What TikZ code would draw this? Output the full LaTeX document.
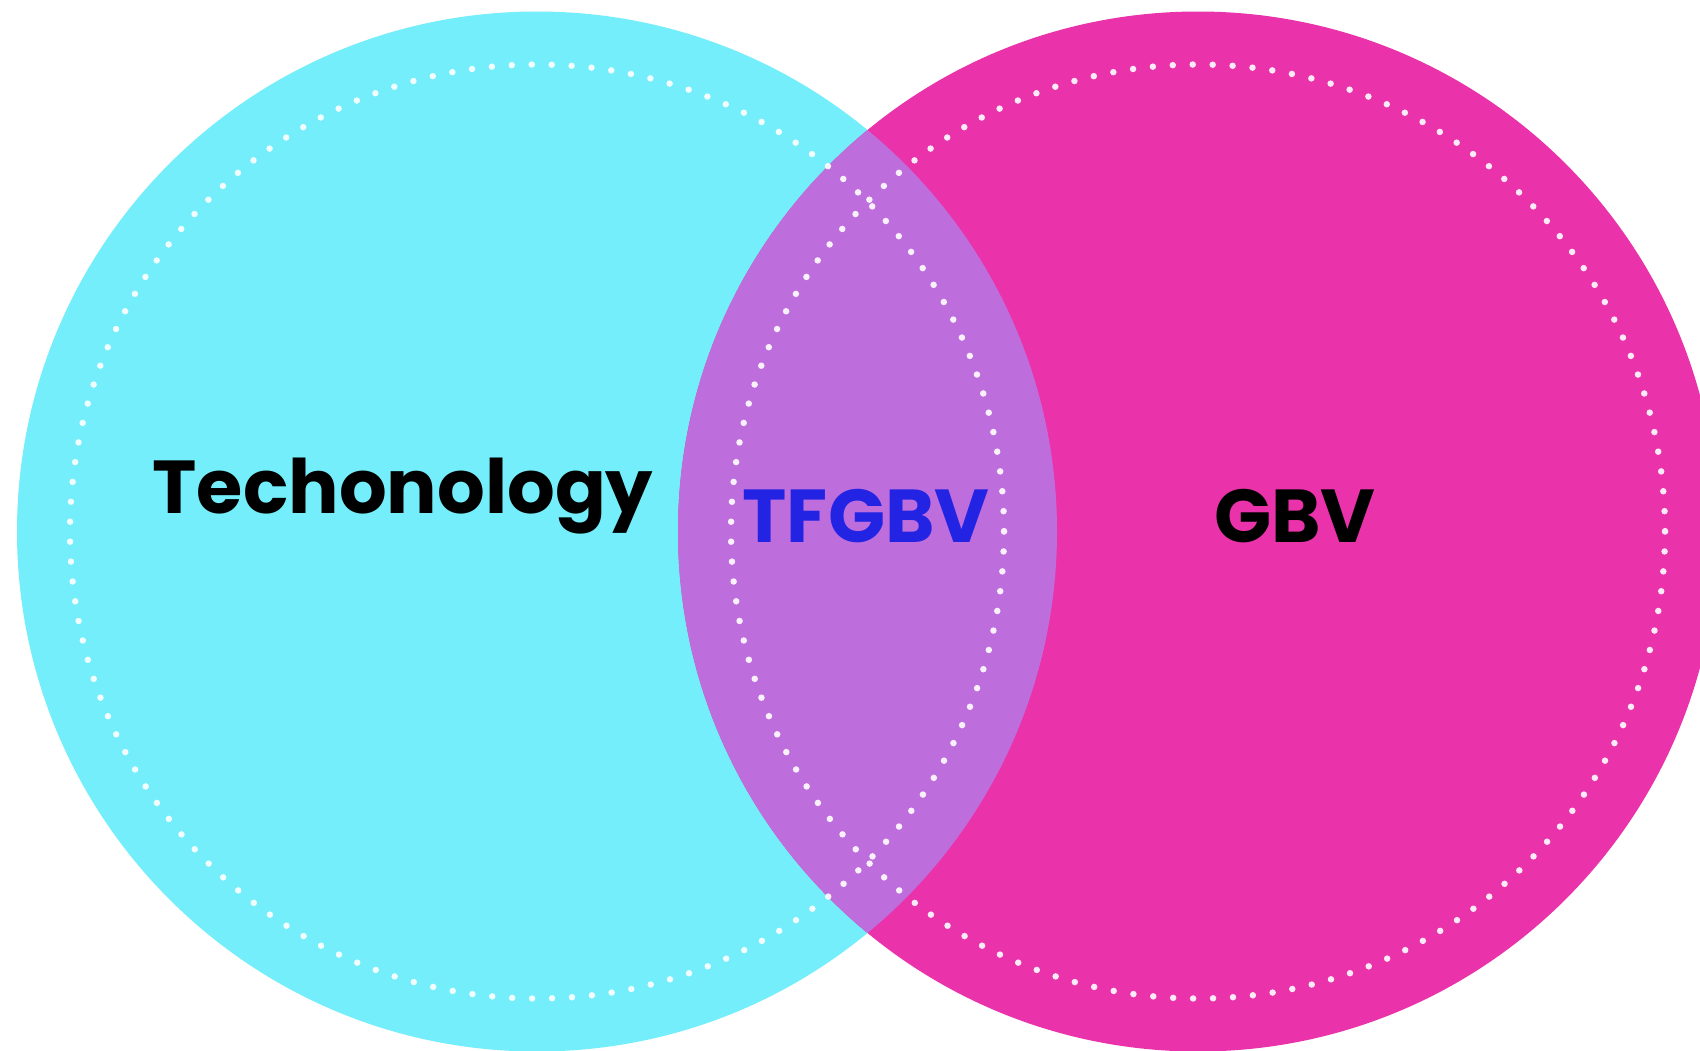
\documentclass[tikz,border=0pt]{standalone}
\usepackage{fontspec}
\setmainfont{Poppins}[BoldFont={* Bold}]
\definecolor{tcyan}{RGB}{115,238,250}
\definecolor{tmag}{RGB}{234,50,170}
\definecolor{tlens}{RGB}{190,110,220}
\definecolor{tblue}{RGB}{35,35,228}
\tikzset{
  dotring/.style={draw=white, draw opacity=0.9, line width=6.5pt, line cap=round, dash pattern=on 0pt off 19.961pt},
  label/.style={font=\fontsize{75}{80}\selectfont\bfseries, inner sep=0pt, anchor=base}
}
\begin{document}
\begin{tikzpicture}[x=1pt,y=-1pt]
\useasboundingbox (0,0) rectangle (1700,1050);
\clip (0,0) rectangle (1700,1050);
\fill[white] (0,0) rectangle (1700,1050);
\coordinate (cl) at (537,531.5);
\coordinate (cr) at (1198,531.5);
\fill[tcyan] (cl) circle[radius=520];
\fill[tmag] (cr) circle[radius=520];
\begin{scope}
  \clip (cl) circle[radius=520];
  \fill[tlens] (cr) circle[radius=520];
\end{scope}
\draw[dotring] (cl) circle[radius=467];
\draw[dotring] (cr) circle[radius=467];
\node[label] (tech) at (403,513) {Techonology};
\node[label, text=tblue] (tf) at (866,542) {TFGBV};
\node[label] (gbv) at (1295,542) {GBV};
\end{tikzpicture}
\end{document}
